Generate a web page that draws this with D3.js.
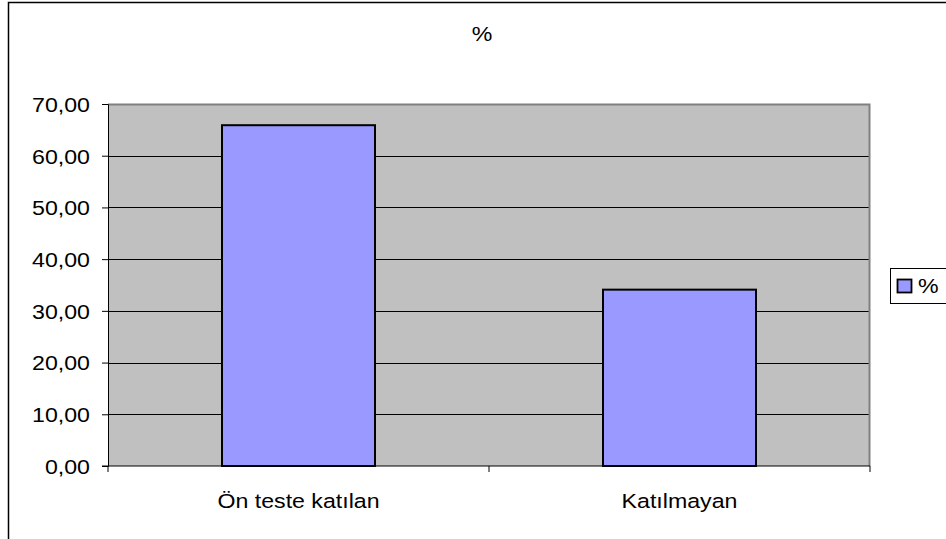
<!DOCTYPE html>
<html>
<head>
<meta charset="utf-8">
<script src="https://cdn.jsdelivr.net/npm/d3@7"></script>
<style>
body { margin: 0; background: #fff; }
svg { font-family: "Liberation Sans", Arial, sans-serif; }
svg text { font-size: 20.5px; fill: #000; }
</style>
</head>
<body>
<svg id="chart" width="946" height="539"></svg>
<script>
// chart data
var categories = ["Ön teste katılan", "Katılmayan"];
var values = [65.9, 34.1];
var yTicks = [0, 10, 20, 30, 40, 50, 60, 70];
var seriesName = "%";
var chartTitle = "%";

var svg = d3.select('#chart');
var plot = { left: 108, right: 870, top: 104, bottom: 466 };
var stretch = 1.13; // text in the original is a bit wide

// places a text at x,y, widened horizontally
function putText(sel, x, y) {
    return sel.attr('transform', 'translate(' + x + ',' + y + ') scale(' + stretch + ',1)');
}

// outer frame
svg.append('rect')
    .attr('x', 8.5).attr('y', 2.5)
    .attr('width', 960).attr('height', 560)
    .attr('fill', '#fff')
    .attr('stroke', '#000').attr('stroke-width', 1.5);

var x = d3.scaleBand().domain(categories).range([plot.left, plot.right]).paddingInner(0).paddingOuter(0);
var y = d3.scaleLinear().domain([0, 70]).range([plot.bottom, plot.top]);

// plot background
svg.append('rect')
    .attr('x', plot.left).attr('y', plot.top)
    .attr('width', plot.right - plot.left).attr('height', plot.bottom - plot.top)
    .attr('fill', '#c0c0c0');

// gridlines
svg.append('g').selectAll('line')
    .data(yTicks.slice(1, -1))
    .enter().append('line')
    .attr('x1', plot.left).attr('x2', plot.right)
    .attr('y1', d => Math.round(y(d)) + 0.5).attr('y2', d => Math.round(y(d)) + 0.5)
    .attr('stroke', '#000').attr('stroke-width', 1);

// plot border top/right gray
svg.append('path')
    .attr('d', 'M' + plot.left + ',' + (plot.top + 0.5) + 'H' + (plot.right - 0.5) + 'V' + plot.bottom)
    .attr('fill', 'none').attr('stroke', '#808080').attr('stroke-width', 2);

// bars
var barW = 153;
svg.append('g').selectAll('rect')
    .data(values)
    .enter().append('rect')
    .attr('x', (d, i) => x(categories[i]) + x.bandwidth() / 2 - barW / 2)
    .attr('y', d => y(d))
    .attr('width', barW)
    .attr('height', d => y(0) - y(d))
    .attr('fill', '#9999ff')
    .attr('stroke', '#000').attr('stroke-width', 2);

// y axis
var yAxis = d3.axisLeft(y).tickValues(yTicks).tickSize(6).tickPadding(12)
    .tickFormat(d => d3.format('.2f')(d).replace('.', ','));
var gy = svg.append('g').attr('transform', 'translate(' + plot.left + ',0)').call(yAxis);
gy.attr('font-family', null).attr('font-size', null);
gy.select('.domain').attr('stroke', '#000');
gy.selectAll('line').attr('stroke', '#000');
gy.selectAll('text').attr('dy', '0.36em').attr('x', null)
    .attr('transform', 'translate(-18,0) scale(' + stretch + ',1)');

// x axis
svg.append('line')
    .attr('x1', plot.left - 6).attr('x2', plot.right)
    .attr('y1', plot.bottom).attr('y2', plot.bottom)
    .attr('stroke', '#000').attr('stroke-width', 1);
var boundaries = [plot.left, x(categories[1]), plot.right];
svg.append('g').selectAll('line')
    .data(boundaries)
    .enter().append('line')
    .attr('x1', d => d).attr('x2', d => d)
    .attr('y1', plot.bottom).attr('y2', plot.bottom + 6)
    .attr('stroke', '#000');
svg.append('g').selectAll('text')
    .data(categories)
    .enter().append('text')
    .attr('text-anchor', 'middle')
    .each(function (d) { putText(d3.select(this), x(d) + x.bandwidth() / 2, 508); })
    .text(d => d);

// title
putText(svg.append('text'), 482, 41)
    .attr('text-anchor', 'middle')
    .text(chartTitle);

// legend
var lg = svg.append('g');
lg.append('rect')
    .attr('x', 890.5).attr('y', 268.5).attr('width', 70).attr('height', 35)
    .attr('fill', '#fff').attr('stroke', '#000');
lg.append('rect')
    .attr('x', 897.5).attr('y', 279.5).attr('width', 14).attr('height', 13)
    .attr('fill', '#9999ff').attr('stroke', '#000').attr('stroke-width', 1.8);
putText(lg.append('text'), 918, 293)
    .text(seriesName);
</script>
</body>
</html>
